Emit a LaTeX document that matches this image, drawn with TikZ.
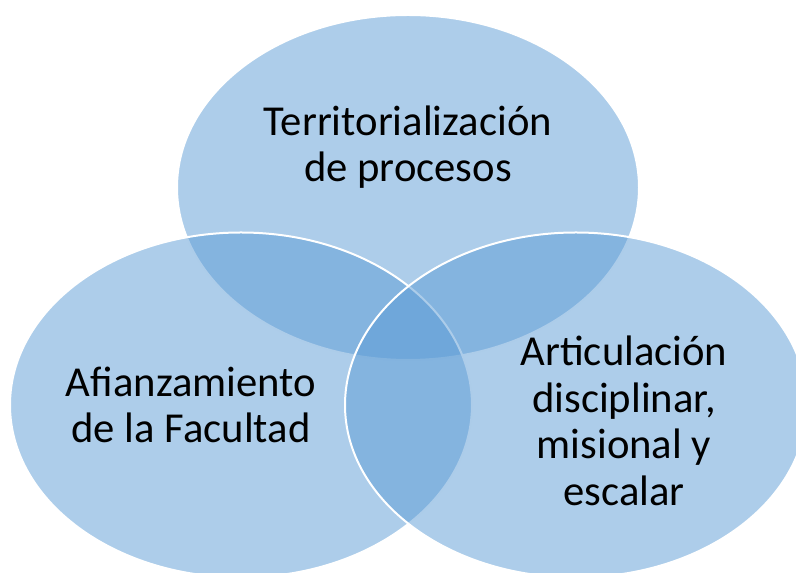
\documentclass[tikz,border=0pt]{standalone}
\usepackage{fontspec}
\setmainfont{Carlito}
\definecolor{vennblue}{HTML}{5B9BD5}

\begin{document}
\begin{tikzpicture}[x=0.75pt,y=0.75pt,
  set/.style={fill=vennblue,fill opacity=0.5,draw=white,line width=1.5pt},
  label/.style={align=center,font=\fontsize{32}{35}\selectfont}]
\useasboundingbox (0,0) rectangle (796,573);
\draw[set] (408,385.5) ellipse (231 and 172.5);
\draw[set] (241,168) ellipse (231 and 172.5);
\draw[set] (576,168) ellipse (231 and 172.5);
\node[label] (proc) at (408,426) {Territorialización\\de procesos};
\node[label] (facu) at (191,168) {Afianzamiento\\de la Facultad};
\node[label] (arti) at (624,152) {Articulación\\disciplinar,\\misional y\\escalar};
\end{tikzpicture}
\end{document}
